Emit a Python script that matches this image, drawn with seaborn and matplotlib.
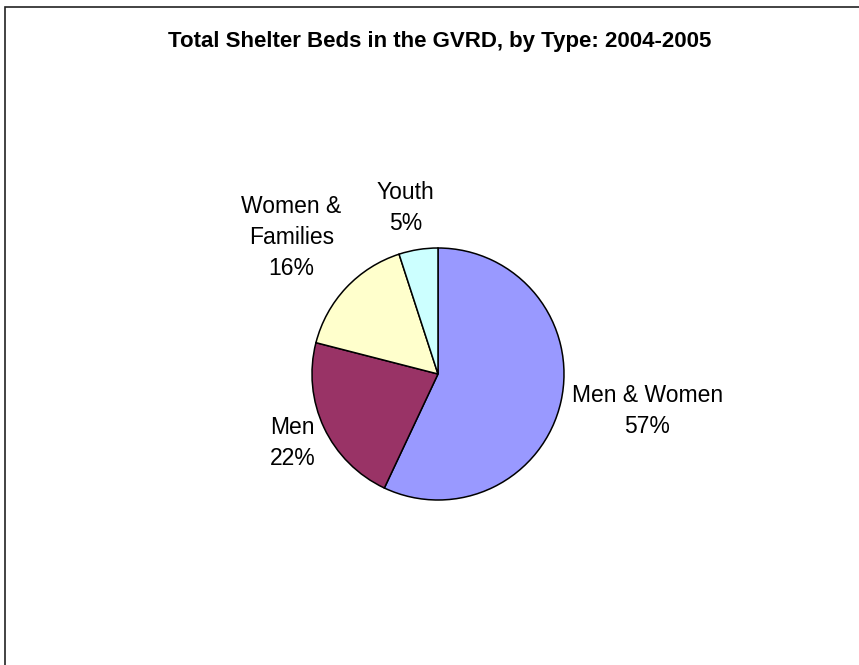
import numpy as np
import matplotlib
matplotlib.use("Agg")
import matplotlib.pyplot as plt
from matplotlib.patches import Rectangle
import seaborn as sns

# Shelter bed shares by type, 2004-2005
categories = ["Men & Women", "Men", "Women &\nFamilies", "Youth"]
shares = [57, 22, 16, 5]
colors = ["#9999FF", "#993366", "#FFFFCC", "#CCFFFF"]

title = "Total Shelter Beds in the GVRD, by Type: 2004-2005"

sns.set_theme(style="white")
plt.rcParams["font.family"] = ["Liberation Sans", "DejaVu Sans"]

W, H = 859, 665
fig = plt.figure(figsize=(W / 100, H / 100), dpi=100)
fig.patch.set_facecolor("white")

# Axes sized so that one data unit spans ~126 px, pie centred near (438, 374)
cx, cy, half = 438, 374, 252
ax = fig.add_axes([(cx - half) / W, (H - cy - half) / H, 2 * half / W, 2 * half / H])

wedges, _ = ax.pie(
    shares,
    colors=colors,
    startangle=90,
    counterclock=False,
    radius=1.0,
    wedgeprops=dict(edgecolor="black", linewidth=1.1),
)
ax.set_xlim(-2, 2)
ax.set_ylim(-2, 2)
ax.set_aspect("equal")
ax.axis("off")

# Label anchoring: each label hangs off the rim point at its slice's mid-angle,
# nudged by an offset (points); baseline refers to the last line of the label.
label_offset = [(7.7, -22.9), (-6.0, -26.9), (-3.2, 9.1), (-9.2, 14.0)]
label_ha = ["left", "right", "right", "center"]

for w, cat, val, off, ha in zip(wedges, categories, shares, label_offset, label_ha):
    mid = np.deg2rad((w.theta1 + w.theta2) / 2)
    ax.annotate(f"{cat}\n{val}%", xy=(np.cos(mid), np.sin(mid)), xycoords="data",
                xytext=off, textcoords="offset points",
                ha=ha, va="baseline", multialignment="center",
                fontsize=16.5, linespacing=1.44, color="black")

fig.text(439.5 / W, 1 - 47.5 / H, title, ha="center", va="baseline",
         fontsize=16, fontweight="bold", color="black")

# Chart-area frame (runs off the right and bottom edges)
fig.patches.append(Rectangle((4.5 / W, -0.1), 1.2, 1 - 7.5 / H + 0.1,
                             transform=fig.transFigure, fill=False,
                             edgecolor="#222222", linewidth=1.2))

fig.savefig("out.png", dpi=100, facecolor="white")
